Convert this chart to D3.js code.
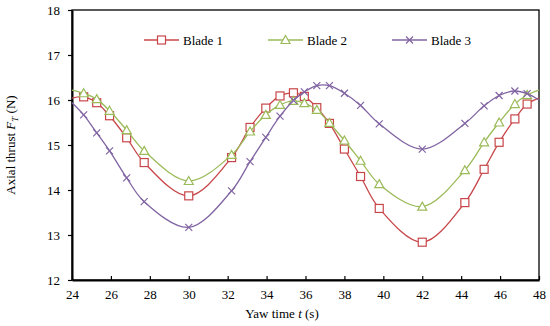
<!DOCTYPE html>
<html><head><meta charset="utf-8">
<script src="https://cdn.jsdelivr.net/npm/d3@7"></script>
<style>body{margin:0;background:#fff}svg{display:block}text{font-family:"Liberation Serif","Times New Roman",serif;fill:#000}</style>
</head><body><svg id="c" width="550" height="326"></svg>
<script>
const times = [24, 24.6, 25.27, 25.93, 26.81, 27.71, 30.0, 32.2, 33.15, 33.96, 34.69, 35.38, 35.94, 36.58, 37.23, 38.0, 38.83, 39.79, 42.0, 44.19, 45.18, 45.95, 46.76, 47.39, 48];
const blade1 = [16.04, 16.07, 15.94, 15.65, 15.16, 14.61, 13.87, 14.72, 15.39, 15.82, 16.09, 16.16, 16.08, 15.83, 15.48, 14.91, 14.30, 13.59, 12.84, 13.72, 14.46, 15.06, 15.58, 15.91, 16.04];
const blade2 = [16.22, 16.15, 16.02, 15.76, 15.33, 14.87, 14.20, 14.78, 15.30, 15.67, 15.89, 15.98, 15.93, 15.78, 15.49, 15.10, 14.65, 14.13, 13.63, 14.44, 15.06, 15.50, 15.91, 16.11, 16.22];
const blade3 = [15.94, 15.67, 15.27, 14.87, 14.27, 13.74, 13.17, 13.98, 14.63, 15.17, 15.64, 15.99, 16.18, 16.32, 16.32, 16.15, 15.88, 15.47, 14.91, 15.48, 15.87, 16.10, 16.20, 16.14, 16.00];
const seriesNames = ["Blade 1", "Blade 2", "Blade 3"];
const xTicks = [24, 26, 28, 30, 32, 34, 36, 38, 40, 42, 44, 46, 48];
const yTicks = [12, 13, 14, 15, 16, 17, 18];

const colors = ["#C8464A", "#9BBB59", "#8064A2"];
const shapes = ["square", "triangle", "cross"];
const data = [blade1, blade2, blade3];

const svg = d3.select("#c");
const L = 72, R = 539, T = 10, B = 280;
const x = d3.scaleLinear().domain([24, 48]).range([L, R]);
const y = d3.scaleLinear().domain([12, 18]).range([B, T]);

// frame
svg.append("rect").attr("x", L).attr("y", T).attr("width", R - L).attr("height", B - T)
  .attr("fill", "none").attr("stroke", "#000").attr("stroke-width", 1.3);

// axes
const xAxis = d3.axisBottom(x).tickValues(xTicks).tickFormat(d3.format("d")).tickSizeInner(-4).tickSizeOuter(0).tickPadding(10);
const gx = svg.append("g").attr("transform", `translate(0,${B})`).call(xAxis);
const yAxis = d3.axisLeft(y).tickValues(yTicks).tickFormat(d3.format("d")).tickSizeInner(4).tickSizeOuter(0).tickPadding(8);
const gy = svg.append("g").attr("transform", `translate(${L},0)`).call(yAxis);
[gx, gy].forEach(g => {
  g.attr("font-family", "Liberation Serif");
  g.select(".domain").attr("stroke", "#000").attr("stroke-width", 2);
  g.selectAll(".tick line").attr("stroke", "#000").attr("stroke-width", 1.2);
  g.selectAll(".tick text").style("font-family", "Liberation Serif").style("font-size", "13px").attr("fill", "#000");
});

// axis titles
const yt = svg.append("text").attr("transform", `translate(15,${(T + B) / 2}) rotate(-90)`)
  .attr("text-anchor", "middle").style("font-size", "13px");
yt.append("tspan").text("Axial thrust ");
yt.append("tspan").style("font-style", "italic").text("F");
yt.append("tspan").style("font-style", "italic").style("font-size", "9px").attr("dy", 3).text("T");
yt.append("tspan").attr("dy", -3).text(" (N)");

const xt = svg.append("text").attr("x", 282).attr("y", 318).attr("text-anchor", "middle").style("font-size", "13px");
xt.append("tspan").text("Yaw time ");
xt.append("tspan").style("font-style", "italic").text("t");
xt.append("tspan").text(" (s)");

// marker drawer
function marker(g, shape, color, cx, cy) {
  if (shape === "square") {
    g.append("rect").attr("x", cx - 4).attr("y", cy - 4).attr("width", 8).attr("height", 8)
      .attr("fill", "#fff").attr("stroke", color).attr("stroke-width", 1.2);
  } else if (shape === "triangle") {
    g.append("path").attr("d", `M${cx},${cy - 4.5}L${cx + 4.5},${cy + 3.5}L${cx - 4.5},${cy + 3.5}Z`)
      .attr("fill", "#fff").attr("stroke", color).attr("stroke-width", 1.2);
  } else {
    g.append("path").attr("d", `M${cx - 3.5},${cy - 3.5}L${cx + 3.5},${cy + 3.5}M${cx - 3.5},${cy + 3.5}L${cx + 3.5},${cy - 3.5}`)
      .attr("fill", "none").attr("stroke", color).attr("stroke-width", 1.2);
  }
}

const line = d3.line().x(d => x(d[0])).y(d => y(d[1])).curve(d3.curveCatmullRom.alpha(0.5));

data.forEach((vals, i) => {
  const pts = times.map((t, j) => [t, vals[j]]);
  const g = svg.append("g");
  g.append("path").attr("d", line(pts)).attr("fill", "none").attr("stroke", colors[i]).attr("stroke-width", 1.3);
  pts.forEach((p, j) => {
    if (j === 0 || j === pts.length - 1) return;
    marker(g, shapes[i], colors[i], x(p[0]), y(p[1]));
  });
});

// legend
const legX = [144, 268, 392];
seriesNames.forEach((n, i) => {
  const g = svg.append("g");
  const lx = legX[i], ly = 40;
  g.append("line").attr("x1", lx).attr("x2", lx + 35).attr("y1", ly).attr("y2", ly)
    .attr("stroke", colors[i]).attr("stroke-width", 1.3);
  marker(g, shapes[i], colors[i], lx + 17.5, ly);
  g.append("text").attr("x", lx + 39).attr("y", ly + 4.5).style("font-size", "13px").text(n);
});
</script></body></html>
